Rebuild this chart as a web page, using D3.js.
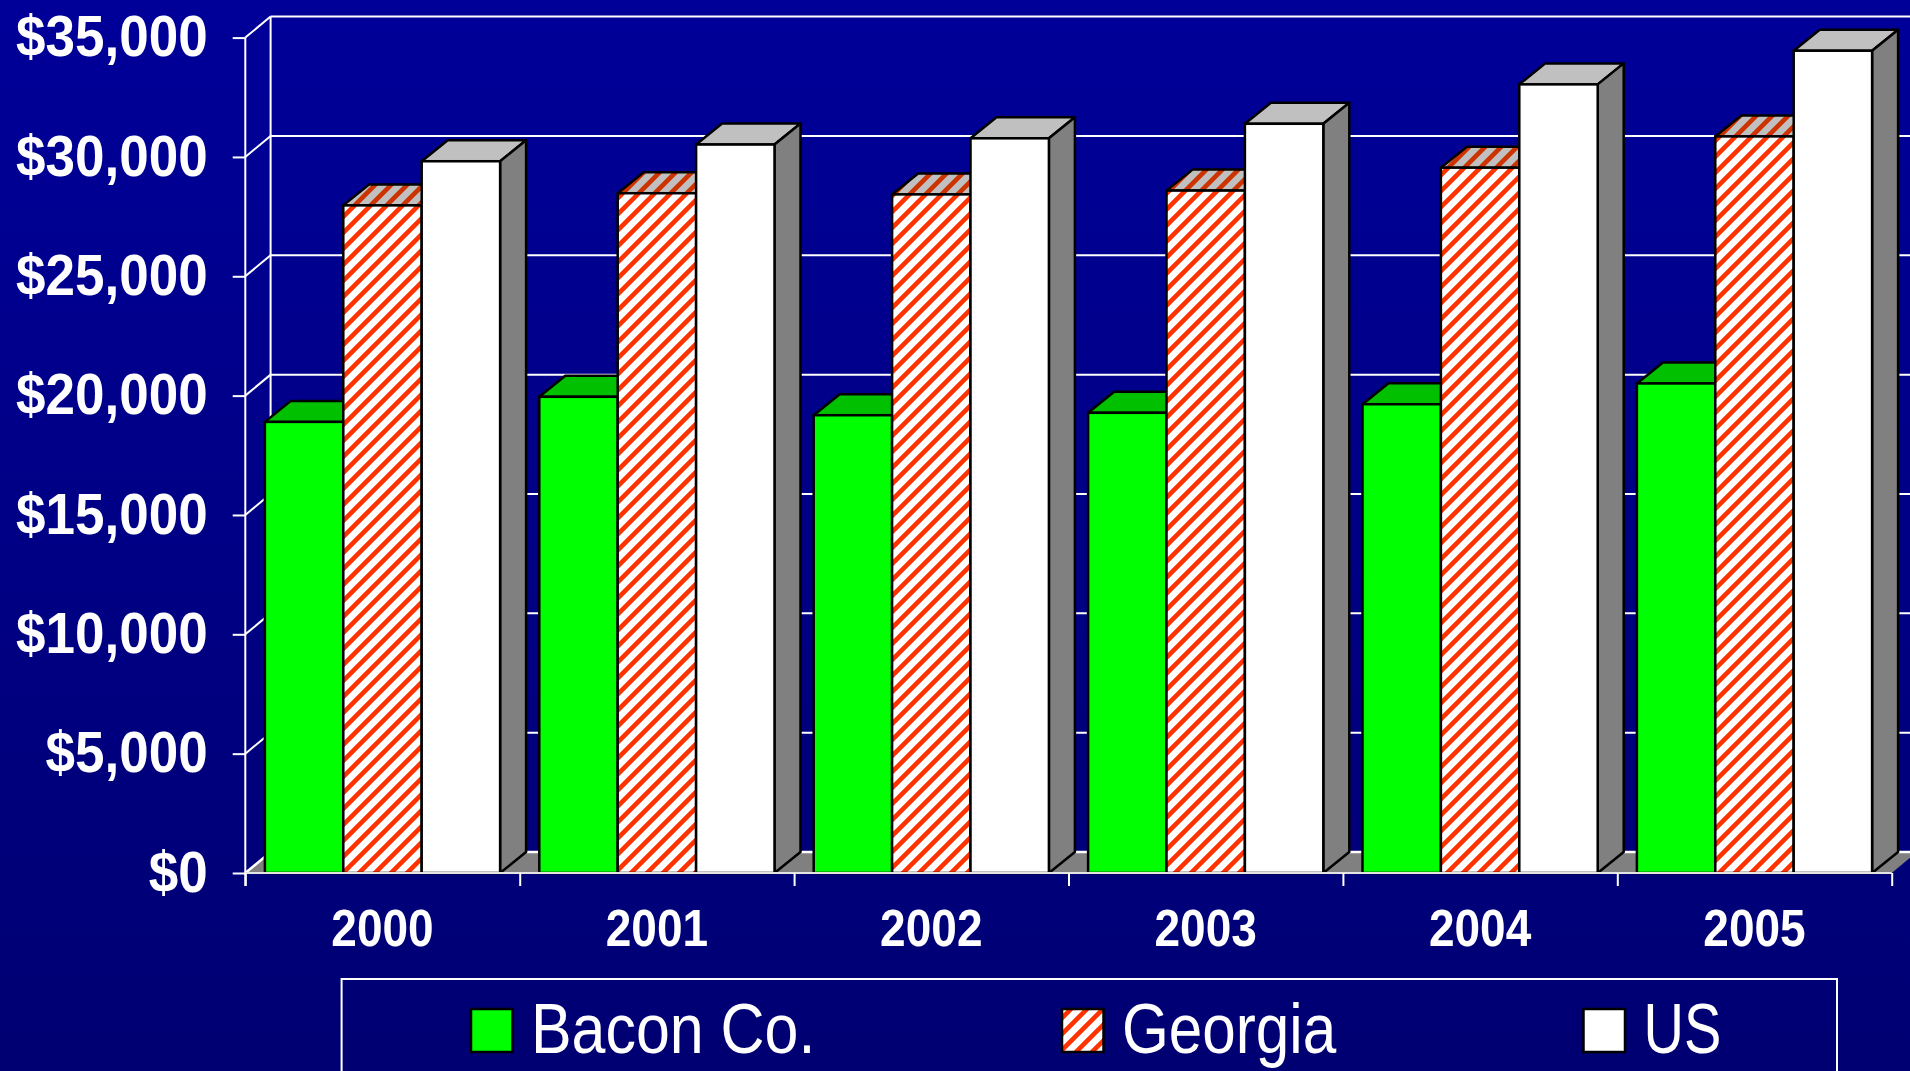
<!DOCTYPE html>
<html>
<head>
<meta charset="utf-8">
<script src="https://cdn.jsdelivr.net/npm/d3@7"></script>
<style>
  html, body { margin: 0; padding: 0; overflow: hidden; }
  text { font-family: "Liberation Sans", Arial, sans-serif; fill: #fff; }
</style>
</head>
<body>
<div id="chart"></div>
<script>
// data
var years = ["2000", "2001", "2002", "2003", "2004", "2005"];
var seriesNames = ["Bacon Co.", "Georgia", "US"];
var bacon = [18900, 19950, 19180, 19280, 19640, 20510];
var georgia = [27970, 28480, 28430, 28590, 29550, 30860];
var us = [29820, 30520, 30780, 31390, 33040, 34450];
var yTicks = [0, 5000, 10000, 15000, 20000, 25000, 30000, 35000];

var width = 1910, height = 1071;
var left = 245.3, right = 1891.7, base = 873, top35 = 37.6;
var depthX = 25.3, depthY = 21;
var barDepthX = 26;

var svg = d3.select("#chart").append("svg")
    .attr("width", width)
    .attr("height", height)
    .style("display", "block");

var defs = svg.append("defs");

// background goes a bit darker towards the bottom
var bg = defs.append("linearGradient")
    .attr("id", "bg")
    .attr("x1", 0).attr("y1", 0).attr("x2", 0).attr("y2", 1);
bg.append("stop").attr("offset", "0%").attr("stop-color", "#000099");
bg.append("stop").attr("offset", "100%").attr("stop-color", "#000072");

// hatch for Georgia, one for the front and a darker one for the top face
function hatch(id, back, stripe) {
    var p = defs.append("pattern")
        .attr("id", id)
        .attr("patternUnits", "userSpaceOnUse")
        .attr("width", 16)
        .attr("height", 16);
    p.append("rect").attr("width", 16).attr("height", 16).attr("fill", back);
    p.append("path")
        .attr("d", "M-4,4L4,-4M-4,20L20,-4M12,20L20,12")
        .attr("stroke", stripe)
        .attr("stroke-width", 4.6);
}
hatch("hatchFront", "#ffffff", "#ff3300");
hatch("hatchTop", "#c0c0c0", "#cc3300");

svg.append("rect")
    .attr("width", width)
    .attr("height", height)
    .attr("fill", "url(#bg)");

// scales
var x0 = d3.scaleBand().domain(years).range([left, right]);
var x1 = d3.scaleBand().domain(seriesNames).range([0, x0.bandwidth()]).paddingInner(0).paddingOuter(0.25);
var y = d3.scaleLinear().domain([0, 35000]).range([base, top35]);
var xEdge = d3.scaleLinear().domain([0, years.length]).range([left, right]);

// floor
svg.append("path")
    .attr("d", d3.line()([[left, base], [left + depthX, base - depthY], [right + depthX, base - depthY], [right, base]]) + "Z")
    .attr("fill", "#808080");
svg.append("path")
    .attr("d", d3.line()([[right + depthX, base - depthY], [left + depthX, base - depthY], [left, base]]))
    .attr("fill", "none")
    .attr("stroke", "#fff")
    .attr("stroke-width", 2.5);

// back wall gridlines and the diagonals on the side wall
svg.append("g").selectAll("line.grid")
    .data(yTicks.slice(1))
    .enter().append("line")
    .attr("x1", left + depthX)
    .attr("x2", right + depthX)
    .attr("y1", function(d) { return y(d) - depthY; })
    .attr("y2", function(d) { return y(d) - depthY; })
    .attr("stroke", "#fff")
    .attr("stroke-width", 2);
svg.append("g").selectAll("line.diag")
    .data(yTicks.slice(1))
    .enter().append("line")
    .attr("x1", left)
    .attr("x2", left + depthX)
    .attr("y1", function(d) { return y(d); })
    .attr("y2", function(d) { return y(d) - depthY; })
    .attr("stroke", "#fff")
    .attr("stroke-width", 2);
svg.append("line")
    .attr("x1", left + depthX).attr("x2", left + depthX)
    .attr("y1", y(35000) - depthY).attr("y2", base - depthY)
    .attr("stroke", "#fff")
    .attr("stroke-width", 2);

// bars, left to right so each one hides the side of the previous one
var seriesValues = [bacon, georgia, us];
var faces = [
    {front: "#00ff00", top: "#00c000", side: "#00a000"},
    {front: "url(#hatchFront)", top: "url(#hatchTop)", side: "#808080"},
    {front: "#ffffff", top: "#c0c0c0", side: "#808080"}
];

years.forEach(function(year, i) {
    var g = svg.append("g").attr("class", "year");
    seriesNames.forEach(function(name, s) {
        var bx = x0(year) + x1(name);
        var bw = x1.bandwidth();
        var ty = y(seriesValues[s][i]);
        g.append("path")
            .attr("d", d3.line()([[bx, ty], [bx + barDepthX, ty - depthY], [bx + bw + barDepthX, ty - depthY], [bx + bw, ty]]) + "Z")
            .attr("fill", faces[s].top)
            .attr("stroke", "#000")
            .attr("stroke-width", 2.5)
            .attr("stroke-linejoin", "round");
        g.append("path")
            .attr("d", d3.line()([[bx + bw, ty], [bx + bw + barDepthX, ty - depthY], [bx + bw + barDepthX, base - depthY], [bx + bw, base]]) + "Z")
            .attr("fill", faces[s].side)
            .attr("stroke", "#000")
            .attr("stroke-width", 2.5)
            .attr("stroke-linejoin", "round");
        g.append("rect")
            .attr("x", bx)
            .attr("y", ty)
            .attr("width", bw)
            .attr("height", base - ty)
            .attr("fill", faces[s].front)
            .attr("stroke", "#000")
            .attr("stroke-width", 2.5);
    });
});

// squeeze text to the narrow look of the original
function squeeze(sel, factor) {
    sel.each(function(d, i) {
        var f = typeof factor === "function" ? factor(d, i) : factor;
        this.setAttribute("textLength", this.getComputedTextLength() * f);
        this.setAttribute("lengthAdjust", "spacingAndGlyphs");
    });
}

// y axis
var yAxis = svg.append("g")
    .attr("transform", "translate(" + left + ",0)")
    .call(d3.axisLeft(y)
        .tickValues(yTicks)
        .tickFormat(d3.format("$,"))
        .tickSize(12.6)
        .tickPadding(25));
yAxis.select(".domain").attr("stroke", "#fff").attr("stroke-width", 2).attr("d", "M0," + y(35000) + "V" + (base + 13));
yAxis.selectAll(".tick line").attr("stroke", "#fff").attr("stroke-width", 2);
yAxis.selectAll("text")
    .attr("fill", "#fff")
    .style("font-size", "57px")
    .style("font-weight", "bold")
    .call(squeeze, 0.93);

// x axis: ticks sit between the years, labels in the middle of them
var xTicks = svg.append("g")
    .attr("transform", "translate(0," + base + ")")
    .call(d3.axisBottom(xEdge).ticks(years.length).tickFormat("").tickSize(13));
xTicks.select(".domain").attr("stroke", "#e4e4e4").attr("stroke-width", 2).attr("d", "M" + left + ",0H" + right);
xTicks.selectAll(".tick line").attr("stroke", "#fff").attr("stroke-width", 2);

var xLabels = svg.append("g")
    .attr("transform", "translate(0," + base + ")")
    .call(d3.axisBottom(x0).tickSize(0).tickPadding(36));
xLabels.select(".domain").remove();
xLabels.selectAll("text")
    .attr("fill", "#fff")
    .style("font-size", "52px")
    .style("font-weight", "bold")
    .call(squeeze, 0.885);

// legend, its box runs off the bottom of the page
var legendX = [471, 1062, 1583.5];
var legendFill = ["#00ff00", "url(#hatchFront)", "#ffffff"];
var legendSqueeze = [0.87, 0.86, 0.8];
svg.append("rect")
    .attr("x", 341.6)
    .attr("y", 979)
    .attr("width", 1495.4)
    .attr("height", 120)
    .attr("fill", "none")
    .attr("stroke", "#fff")
    .attr("stroke-width", 2);
var legend = svg.append("g").selectAll("g")
    .data(seriesNames)
    .enter().append("g");
legend.append("rect")
    .attr("x", function(d, i) { return legendX[i]; })
    .attr("y", 1009)
    .attr("width", 41.5)
    .attr("height", 43)
    .attr("fill", function(d, i) { return legendFill[i]; })
    .attr("stroke", "#000")
    .attr("stroke-width", 2.5);
legend.append("text")
    .attr("x", function(d, i) { return legendX[i] + 60; })
    .attr("y", 1053)
    .style("font-size", "70px")
    .text(function(d) { return d; })
    .call(squeeze, function(d, i) { return legendSqueeze[i]; });
</script>
</body>
</html>
